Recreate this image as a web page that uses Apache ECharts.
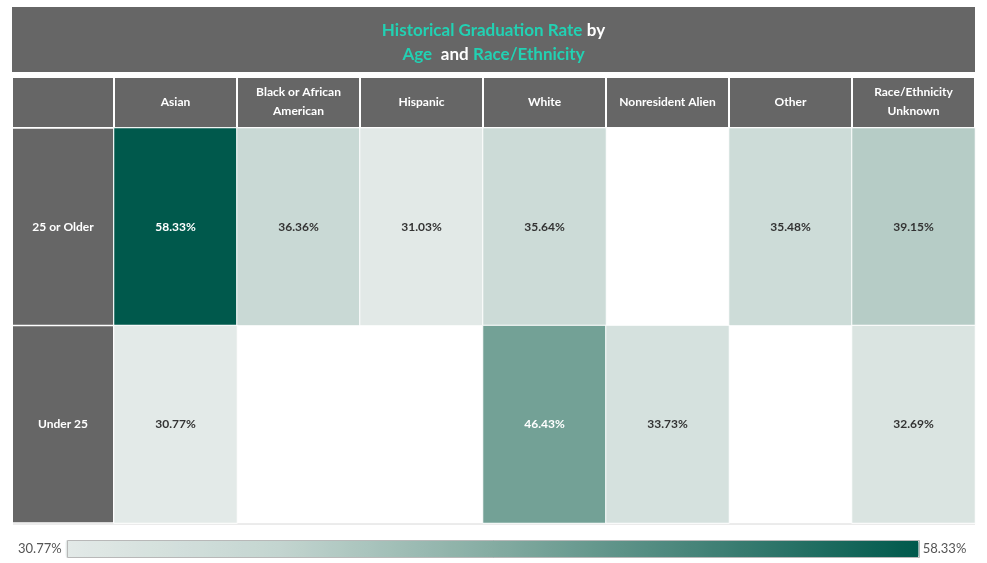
<!DOCTYPE html>
<html><head><meta charset="utf-8">
<script src="https://cdn.jsdelivr.net/npm/echarts@6/dist/echarts.min.js"></script>
<style>html,body{margin:0;padding:0;background:#fff}#c{width:987px;height:563px}</style>
</head><body><div id="c"></div>
<script>
const races = ['Asian', 'Black or African\nAmerican', 'Hispanic', 'White', 'Nonresident Alien', 'Other', 'Race/Ethnicity\nUnknown'];
const ages = ['25 or Older', 'Under 25'];
const olderRates = [58.33, 36.36, 31.03, 35.64, null, 35.48, 39.15];
const under25Rates = [30.77, null, null, 46.43, 33.73, null, 32.69];
const rangeMin = 30.77;
const rangeMax = 58.33;

const FONT = 'Lato';
const rows = [olderRates, under25Rates];
const data = [];
rows.forEach((r, yi) => r.forEach((v, xi) => {
  if (v === null) return;
  data.push({ value: [xi, yi, v], label: { color: v > 45 ? '#ffffff' : '#333333' } });
}));

const chart = echarts.init(document.getElementById('c'), null, { renderer: 'canvas' });
chart.setOption({
  animation: false,
  textStyle: { fontFamily: FONT },
  title: {
    left: 'center', top: 14,
    text: '{t|Historical Graduation Rate} {w|by}\n{t|Age}  {w|and} {t|Race/Ethnicity}',
    textStyle: {
      rich: {
        t: { color: '#22d1b3', fontSize: 17, fontWeight: 'bold', fontFamily: FONT, lineHeight: 24 },
        w: { color: '#ffffff', fontSize: 17, fontWeight: 'bold', fontFamily: FONT, lineHeight: 24 }
      }
    }
  },
  graphic: [
    { type: 'rect', z: -1, shape: { x: 12, y: 7, width: 963, height: 65 }, style: { fill: '#666666' } },
    { type: 'rect', z: -1, shape: { x: 13, y: 78, width: 100, height: 49 }, style: { fill: '#666666' } },
    { type: 'line', shape: { x1: 13, y1: 524, x2: 975, y2: 524 }, style: { stroke: '#d8d8d8', lineWidth: 1 } },
    { type: 'rect', z: 10, shape: { x: 67.5, y: 540.5, width: 852, height: 17 }, style: { fill: 'none', stroke: '#b8b8b8', lineWidth: 1 } }
  ],
  grid: { left: 114, top: 128, width: 861, height: 395 },
  xAxis: {
    type: 'category', position: 'top', data: races,
    axisLine: { show: false }, axisTick: { show: false }, splitLine: { show: false },
    axisLabel: {
      interval: 0, margin: 1, backgroundColor: '#666666', padding: [5, 0, 6, 0],
      formatter: function (v) {
        const parts = v.split('\n');
        if (parts.length === 1) return '{s|' + v + '}';
        return parts.map(p => '{d|' + p + '}').join('\n');
      },
      rich: {
        s: { width: 121, height: 38, lineHeight: 38, align: 'center', color: '#fff', fontWeight: 'bold', fontSize: 12, fontFamily: FONT },
        d: { width: 121, height: 19, lineHeight: 19, align: 'center', color: '#fff', fontWeight: 'bold', fontSize: 12, fontFamily: FONT }
      }
    }
  },
  yAxis: {
    type: 'category', inverse: true, data: ages,
    axisLine: { show: false }, axisTick: { show: false }, splitLine: { show: false },
    axisLabel: {
      interval: 0, margin: 1,
      formatter: v => '{r|' + v + '}',
      rich: {
        r: { width: 100, height: 196, lineHeight: 196, align: 'center', backgroundColor: '#666666', color: '#fff', fontWeight: 'bold', fontSize: 12, fontFamily: FONT }
      }
    }
  },
  visualMap: {
    type: 'continuous', min: rangeMin, max: rangeMax, calculable: false,
    orient: 'horizontal', left: 3, top: 525, itemWidth: 18, itemHeight: 853,
    text: [rangeMax.toFixed(2) + '%', rangeMin.toFixed(2) + '%'], textGap: 4,
    textStyle: { color: '#555555', fontSize: 13, fontFamily: FONT },
    inRange: { color: ['#e3eae8', '#c3d5d0', '#85aca2', '#438277', '#00594c'] }
  },
  series: [{
    type: 'heatmap', data: data,
    itemStyle: { borderColor: '#ffffff', borderWidth: 1 },
    label: { show: true, fontWeight: 'bold', fontSize: 12, fontFamily: FONT, formatter: p => p.value[2].toFixed(2) + '%' }
  }]
});
</script></body></html>
